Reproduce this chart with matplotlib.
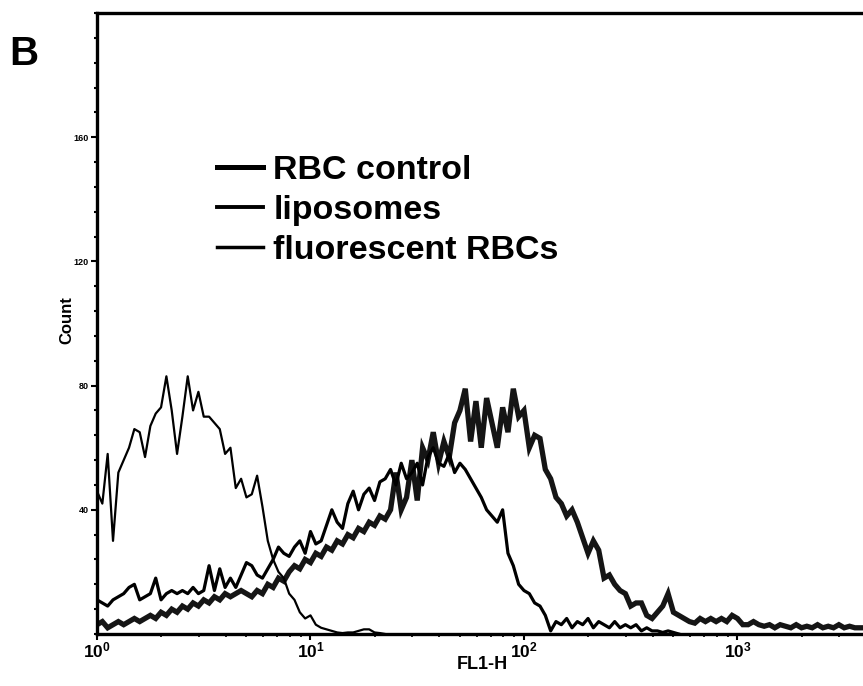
import numpy as np
import matplotlib
matplotlib.use('Agg')
import matplotlib.pyplot as plt
from matplotlib.lines import Line2D
from matplotlib.ticker import FixedLocator, LogLocator, NullFormatter

plt.rcParams['font.family'] = ['Liberation Sans', 'DejaVu Sans']
plt.rcParams['font.weight'] = 'bold'
plt.rcParams['mathtext.fontset'] = 'custom'
plt.rcParams['mathtext.bf'] = 'Liberation Sans:bold'
plt.rcParams['mathtext.rm'] = 'Liberation Sans:bold'

# log spaced FL1-H channels, 40 per decade
channels = np.logspace(0, 3.6, 145)

# counts
rbc_control = [46, 42, 58, 30, 52, 56, 60, 66, 65, 57,
               67, 71, 73, 83, 72, 58, 70, 83, 72, 78,
               70, 70, 68, 66, 58, 60, 47, 50, 44, 45,
               51, 41, 30, 24, 20, 18, 13, 11, 7, 5,
               6, 3, 2, 1.5, 1, 0.5, 0.3, 0.5, 0.5, 1,
               1.5, 1.5, 0.5, 0.3, 0]

liposomes = [11, 10, 9, 11, 12, 13, 15, 16, 11, 12,
             13, 18, 11, 13, 14, 13, 14, 13, 15, 13,
             14, 22, 14, 21, 15, 18, 15, 19, 23, 22,
             19, 18, 21, 24, 28, 26, 25, 28, 30, 26,
             33, 29, 30, 35, 40, 36, 34, 42, 46, 40,
             45, 47, 43, 49, 50, 53, 48, 55, 50, 52,
             55, 48, 57, 60, 55, 54, 58, 52, 55, 53,
             50, 47, 44, 40, 38, 36, 40, 26, 22, 16,
             14, 13, 10, 9, 6, 1, 4, 3, 5, 2,
             4, 3, 5, 2, 4, 3, 2, 4, 2, 3,
             2, 3, 1, 2, 1, 1, 0.5, 1, 0.5, 0]

fluor_rbcs = [3, 4, 2, 3, 4, 3, 4, 5, 4, 5,
              6, 5, 7, 6, 8, 7, 9, 8, 10, 9,
              11, 10, 12, 11, 13, 12, 13, 14, 13, 12,
              14, 13, 16, 15, 18, 17, 20, 22, 21, 24,
              23, 26, 25, 28, 27, 30, 29, 32, 31, 34,
              33, 36, 35, 38, 37, 40, 52, 40, 44, 56,
              43, 60, 56, 65, 55, 62, 57, 68, 72, 79,
              62, 75, 60, 76, 68, 60, 73, 65, 79, 70,
              72, 60, 64, 63, 53, 50, 44, 42, 38, 40,
              36, 31, 26, 30, 27, 18, 19, 16, 14, 13,
              9, 10, 10, 6, 5, 7, 9, 13, 7, 6,
              5, 4, 3.5, 5, 4, 5, 4, 5, 4, 6,
              5, 3, 3, 4, 3, 2.5, 3, 2, 3, 2.5,
              2, 3, 2, 2.5, 2, 3, 2, 2.5, 2, 3,
              2, 2.5, 2, 2, 2]

labels = ['RBC control', 'liposomes', 'fluorescent RBCs']
ytick_vals = [40, 80, 120, 160]

fig = plt.figure(figsize=(8.63, 6.86), dpi=100)
ax = fig.add_axes([0.1124, 0.0758, 0.8876, 0.9052])

ax.plot(channels[:len(fluor_rbcs)], fluor_rbcs, color='#151515', lw=3.8,
        solid_joinstyle='miter')
ax.plot(channels[:len(liposomes)], liposomes, color='black', lw=2.3)
ax.plot(channels[:len(rbc_control)], rbc_control, color='black', lw=1.6)

ax.set_xscale('log')
ax.set_xlim(1, 10 ** 3.588)
ax.set_ylim(0, 200)

for s in ['left', 'bottom', 'top']:
    ax.spines[s].set_linewidth(2.4)
ax.spines['right'].set_visible(False)

ax.yaxis.set_major_locator(FixedLocator(ytick_vals))
ax.yaxis.set_minor_locator(FixedLocator(np.arange(0, 201, 8)))
ax.set_yticklabels([str(v) for v in ytick_vals], fontsize=6.5, fontweight='bold')
ax.tick_params(axis='y', which='major', length=4, width=1.5, pad=2)
ax.tick_params(axis='y', which='minor', length=2.5, width=1.5)

ax.xaxis.set_major_locator(FixedLocator([1, 10, 100, 1000]))
ax.xaxis.set_minor_locator(LogLocator(base=10, subs=np.arange(2, 10)))
ax.xaxis.set_minor_formatter(NullFormatter())
ax.set_xticklabels([r'$\mathbf{10^{%d}}$' % i for i in range(4)], fontsize=12.5)
ax.tick_params(axis='x', which='major', length=4, width=1.5, pad=1)
ax.tick_params(axis='x', which='minor', length=2.5, width=1.2)

ax.set_xlabel('FL1-H', fontsize=13, fontweight='bold')
ax.xaxis.set_label_coords(0.503, -0.036)
ax.set_ylabel('Count', fontsize=12, fontweight='bold')
ax.yaxis.set_label_coords(-0.029, 0.505)

handles = [Line2D([], [], color='black', lw=3.6),
           Line2D([], [], color='black', lw=2.8),
           Line2D([], [], color='black', lw=2.5)]
ax.legend(handles, labels, loc='upper left', bbox_to_anchor=(0.236, 0.794),
          bbox_transform=fig.transFigure, frameon=False,
          prop={'size': 24.5, 'weight': 'bold'}, handlelength=1.35,
          handletextpad=0.3, labelspacing=0.27, borderaxespad=0)

fig.text(0.028, 0.905, 'B', fontsize=29, fontweight='bold', ha='center', va='baseline')

fig.savefig('out.png', dpi=100)
